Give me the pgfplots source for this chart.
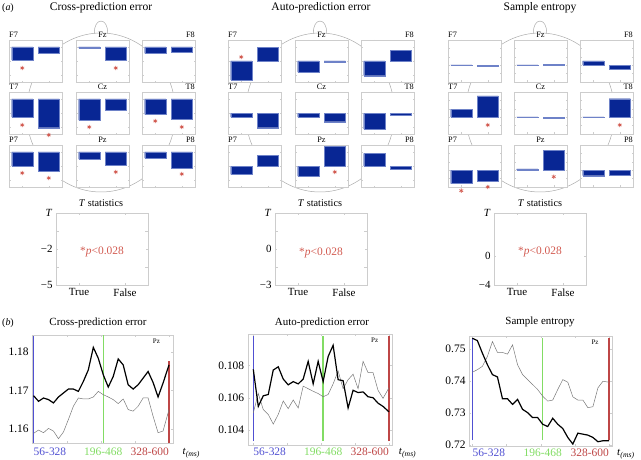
\documentclass[border=0pt]{standalone}
\usepackage{pgfplots}
\pgfplotsset{compat=1.18}
\usepackage{pgfplotstable}
\usepackage{fontspec}
\setmainfont{Liberation Serif}

\definecolor{barblue}{RGB}{8,38,148}
\definecolor{baredge}{RGB}{110,130,200}
\definecolor{starred}{RGB}{210,90,80}
\definecolor{framegray}{RGB}{205,205,205}
\definecolor{headgray}{RGB}{170,170,170}
\definecolor{lineblue}{RGB}{80,80,210}
\definecolor{linegreen}{RGB}{130,220,100}
\definecolor{linered}{RGB}{190,70,70}
\definecolor{trialgray}{RGB}{120,120,120}

% panel (b): t, black (true), gray (false)
\pgfplotstableread{
t   blk      gry
56  1.16863  1.15889
66  1.16718  1.15974
76  1.16803  1.15906
86  1.16761  1.16017
96  1.16675  1.15949
106 1.16829  1.15752
116 1.16932  1.15923
126 1.17034  1.16248
136 1.17034  1.16590
146 1.16974  1.16803
156 1.17231  1.16778
166 1.17530  1.16778
176 1.18111  1.16829
186 1.17829  1.16974
196 1.17402  1.16889
206 1.17085  1.16829
216 1.17359  1.16761
226 1.17812  1.16658
236 1.17658  1.16778
246 1.17145  1.16504
256 1.17034  1.16462
266 1.17145  1.16590
276 1.17316  1.16803
286 1.17487  1.16803
296 1.17205  1.16333
306 1.16829  1.15906
316 1.17188  1.15949
328 1.17658  1.16504
}\crossdata

\pgfplotstableread{
t   blk      gry
56  0.10776  0.10506
66  0.10546  0.10626
76  0.10612  0.10526
86  0.10620  0.10496
96  0.10772  0.10436
106 0.10792  0.10496
116 0.10716  0.10580
126 0.10680  0.10532
136 0.10700  0.10586
146 0.10686  0.10536
156 0.10716  0.10672
166 0.10826  0.10656
176 0.10686  0.10640
186 0.10826  0.10626
196 0.10700  0.10606
206 0.10856  0.10620
216 0.10926  0.10686
226 0.10712  0.10766
236 0.10706  0.10656
246 0.10536  0.10712
256 0.10646  0.10746
266 0.10632  0.10656
276 0.10636  0.10826
286 0.10606  0.10756
296 0.10600  0.10756
306 0.10566  0.10646
316 0.10546  0.10596
328 0.10512  0.10662
}\autodata

\pgfplotstableread{
t   blk      gry
56  0.75330  0.74268
66  0.75258  0.74351
76  0.74866  0.74454
86  0.74505  0.74763
96  0.74196  0.75227
106 0.74124  0.74887
116 0.73443  0.74887
126 0.73443  0.74835
136 0.73268  0.75124
146 0.73423  0.74505
156 0.73113  0.74196
166 0.73010  0.74041
176 0.72856  0.73887
186 0.72856  0.73732
196 0.72649  0.73526
206 0.72577  0.73371
216 0.72835  0.73402
226 0.72649  0.73732
236 0.72515  0.74041
246 0.72237  0.73959
256 0.72031  0.73505
266 0.72371  0.73402
276 0.72340  0.73402
286 0.72309  0.73165
296 0.72237  0.73196
306 0.72103  0.73784
316 0.72134  0.73990
328 0.72134  0.73959
}\sampdata

\newcommand{\elecfont}{\fontsize{8.3}{9}\selectfont}
\newcommand{\titlefont}{\fontsize{11.6}{13}\selectfont}
\newcommand{\tickfont}{\fontsize{11}{12}\selectfont}
\newcommand{\winfont}{\fontsize{11.5}{12}\selectfont}

\pgfplotsset{
  elec/.style={scale only axis, width=53bp, height=42bp, anchor=north west,
    xmin=0.5, xmax=2.5, clip=false,
    axis line style={framegray, line width=0.4pt},
    axis background/.style={fill=white},
    xtick={1,2}, xticklabels={}, yticklabels={},
    tick style={framegray, line width=0.3pt}, major tick length=1.5bp,
    tick align=inside},
  tstat/.style={scale only axis, width=92bp, height=72bp, anchor=north west,
    xmin=0.5, xmax=2.5, xtick={1,2}, xticklabels={True,False},
    axis line style={framegray, line width=0.4pt},
    tick style={framegray, line width=0.3pt}, major tick length=2bp,
    tick align=inside, ticklabel style={font=\tickfont, text=black},
    minor y tick num=1},
  trace/.style={scale only axis, anchor=north west, clip=false,
    axis line style={framegray, line width=0.4pt},
    tick style={framegray, line width=0.3pt}, major tick length=2bp,
    tick align=inside, ticklabel style={font=\fontsize{11.5}{12}\selectfont, text=black},
    xtick={56,124,192,260,328}, xticklabels={}},
  window/.style={line width=1.4bp},
}

% #1 x, #2 y, #3 ymin, #4 ymax, #5 label, #6 rel x of label, #7 anchor, #8 bars, #9 stars
\newcommand{\ebox}[9]{%
  \begin{axis}[elec, at={(#1bp,-#2bp)}, ymin=#3, ymax=#4]
    \addplot[ybar, bar width=0.8, bar shift=0pt, fill=barblue, draw=baredge, line width=0.3pt]
      coordinates {#8};
    \addplot[only marks, mark=asterisk, mark size=2.2bp, color=starred, line width=0.6bp]
      coordinates {#9};
    \node[anchor=#7, inner sep=0pt, font=\elecfont, yshift=2.6bp] at (rel axis cs:#6,1) {#5};
  \end{axis}}

\newcommand{\head}[1]{%
  \draw[headgray, line width=0.5bp] (#1,112.5) ellipse [x radius=74.5bp, y radius=79.5bp];
  \draw[headgray, line width=0.5bp] (#1-6.5,33.4) .. controls (#1-7.5,17) and (#1+7.5,17) .. (#1+6.5,33.4);}

\begin{document}
\begin{tikzpicture}[x=1bp, y=-1bp]
\useasboundingbox (0,0) rectangle (641,460);

% ---------- panel (a) ----------
\node[font=\fontsize{10}{12}\selectfont, anchor=west, inner sep=0pt] at (2,8) {(\textit{a})};
\node[font=\titlefont] at (101,8) {Cross-prediction error};
\node[font=\titlefont] at (321,8) {Auto-prediction error};
\node[font=\titlefont] at (540,8) {Sample entropy};

\head{101}
\head{320}
\head{540}

% cross-prediction error
\ebox{9}{40}{-5}{1}{F7}{0}{base west}{(1,-1.86) (2,-0.9)}{(1,-3.0)}
\ebox{76}{40}{-5}{1}{Fz}{0.5}{base}{(1,-0.15) (2,-1.86)}{(2,-3.0)}
\ebox{142}{40}{-5}{1}{F8}{1}{base east}{(1,-0.9) (2,-0.76)}{}
\ebox{9}{92}{-5}{1}{T7}{0}{base west}{(1,-2.6) (2,-4.1)}{(1,-3.71) (2,-5.14)}
\ebox{76}{92}{-5}{1}{Cz}{0.5}{base}{(1,-3.0) (2,-1.6)}{(1,-4.0)}
\ebox{142}{92}{-5}{1}{T8}{1}{base east}{(1,-2.2) (2,-2.9)}{(1,-3.14) (2,-4.0)}
\ebox{9}{145}{-5}{1}{P7}{0}{base west}{(1,-2.0) (2,-2.7)}{(1,-3.0) (2,-3.71)}
\ebox{76}{145}{-5}{1}{Pz}{0.5}{base}{(1,-1.0) (2,-1.9)}{(2,-2.86)}
\ebox{142}{145}{-5}{1}{P8}{1}{base east}{(1,-0.86) (2,-2.3)}{(2,-3.14)}

% auto-prediction error
\ebox{228}{40}{-3}{3}{F7}{0}{base west}{(1,-2.7) (2,1.95)}{(1,0.57)}
\ebox{295}{40}{-3}{3}{Fz}{0.5}{base}{(1,-1.6) (2,-0.2)}{}
\ebox{361}{40}{-3}{3}{F8}{1}{base east}{(1,-2.1) (2,1.5)}{}
\ebox{228}{92}{-3}{3}{T7}{0}{base west}{(1,-0.6) (2,-2.1)}{}
\ebox{295}{92}{-3}{3}{Cz}{0.5}{base}{(1,-0.6) (2,-1.24)}{}
\ebox{361}{92}{-3}{3}{T8}{1}{base east}{(1,-2.3) (2,-0.25)}{}
\ebox{228}{145}{-3}{3}{P7}{0}{base west}{(1,-1.2) (2,1.5)}{}
\ebox{295}{145}{-3}{3}{Pz}{0.5}{base}{(1,-1.45) (2,2.8)}{(2,-0.86)}
\ebox{361}{145}{-3}{3}{P8}{1}{base east}{(1,1.8) (2,-0.5)}{}

% sample entropy
\ebox{448}{40}{-4}{6}{F7}{0}{base west}{(1,0.1) (2,-0.2)}{}
\ebox{514}{40}{-4}{6}{Fz}{0.5}{base}{(1,0.05) (2,0.15)}{}
\ebox{580}{40}{-4}{6}{F8}{1}{base east}{(1,1.0) (2,-1.0)}{}
\ebox{448}{92}{-4}{6}{T7}{0}{base west}{(1,1.9) (2,5.1)}{(2,-1.86)}
\ebox{514}{92}{-4}{6}{Cz}{0.5}{base}{(1,0.05) (2,-0.3)}{}
\ebox{580}{92}{-4}{6}{T8}{1}{base east}{(1,0.05) (2,4.4)}{(2,-1.86)}
\ebox{448}{145}{-4}{6}{P7}{0}{base west}{(1,-3.2) (2,-2.6)}{(1,-4.88) (2,-4.0)}
\ebox{514}{145}{-4}{6}{Pz}{0.5}{base}{(1,0.3) (2,4.7)}{(2,-1.55)}
\ebox{580}{145}{-4}{6}{P8}{1}{base east}{(1,-1.3) (2,-1.2)}{}

% T statistics keys
\node[font=\fontsize{10.3}{12}\selectfont] at (101,203) {\textit{T} statistics};
\node[font=\fontsize{10.3}{12}\selectfont] at (320,203) {\textit{T} statistics};
\node[font=\fontsize{10.3}{12}\selectfont] at (540,203) {\textit{T} statistics};

\begin{axis}[tstat, at={(56bp,-213bp)}, ymin=-5, ymax=1, ytick={-5,-2,1}, yticklabels={−5,−2,\textit{T}}]
  \node[text=starred, font=\fontsize{11.5}{13}\selectfont] at (rel axis cs:0.5,0.46) {*\textit{p}<0.028};
\end{axis}
\begin{axis}[tstat, at={(275bp,-213bp)}, ymin=-3, ymax=3, ytick={-3,0,3}, yticklabels={−3,0,\textit{T}}]
  \node[text=starred, font=\fontsize{11.5}{13}\selectfont] at (rel axis cs:0.5,0.44) {*\textit{p}<0.028};
\end{axis}
\begin{axis}[tstat, at={(494bp,-213bp)}, ymin=-4, ymax=6, ytick={-4,0,6}, yticklabels={−4,0,\textit{T}}]
  \node[text=starred, font=\fontsize{11.5}{13}\selectfont] at (rel axis cs:0.5,0.46) {*\textit{p}<0.028};
\end{axis}

% ---------- panel (b) ----------
\node[font=\fontsize{10}{12}\selectfont, anchor=west, inner sep=0pt] at (2,323) {(\textit{b})};
\node[font=\fontsize{11}{13}\selectfont] at (98,323) {Cross-prediction error};
\node[font=\fontsize{11}{13}\selectfont] at (322,323) {Auto-prediction error};
\node[font=\fontsize{11}{13}\selectfont] at (540,322) {Sample entropy};

\begin{axis}[trace, at={(32.2bp,-335bp)}, width=141.1bp, height=108bp,
    xmin=53.3, xmax=336.6, ymin=1.1564, ymax=1.1843,
    ytick={1.16,1.17,1.18}, yticklabels={1.16,1.17,1.18}]
  \addplot[lineblue, window] coordinates {(56,1.1564) (56,1.1840)};
  \addplot[linegreen, window] coordinates {(196,1.1564) (196,1.1843)};
  \addplot[linered, window] coordinates {(328,1.1564) (328,1.1775)};
  \addplot[trialgray, line width=0.5bp] table[x=t, y=gry] {\crossdata};
  \addplot[black, line width=1.2bp] table[x=t, y=blk] {\crossdata};
  \node[font=\fontsize{7}{8}\selectfont, anchor=north east] at (rel axis cs:0.93,1) {Pz};
  \node[lineblue, font=\winfont, anchor=north west, inner sep=0pt] at ([yshift=-5bp]axis cs:56,1.1564) {56-328};
  \node[linegreen, font=\winfont, anchor=north, inner sep=0pt] at ([yshift=-5bp]axis cs:196,1.1564) {196-468};
  \node[linered, font=\winfont, anchor=north east, inner sep=0pt] at ([yshift=-5bp]axis cs:328,1.1564) {328-600};
  \node[font=\fontsize{11}{12}\selectfont, anchor=north west, inner sep=0pt] at ([xshift=9bp, yshift=-5bp]rel axis cs:1,0) {\textit{t}\textsubscript{\textit{(ms)}}};
\end{axis}

\begin{axis}[trace, at={(247.7bp,-334bp)}, width=144bp, height=111bp,
    xmin=44.8, xmax=333.4, ymin=0.10306, ymax=0.10996,
    ytick={0.104,0.106,0.108,0.110}, yticklabels={0.104,0.106,0.108,0.110}]
  \addplot[lineblue, window] coordinates {(56,0.1033) (56,0.10985)};
  \addplot[linegreen, window] coordinates {(196,0.1033) (196,0.10985)};
  \addplot[linered, window] coordinates {(328,0.1033) (328,0.10985)};
  \addplot[trialgray, line width=0.5bp] table[x=t, y=gry] {\autodata};
  \addplot[black, line width=1.2bp] table[x=t, y=blk] {\autodata};
  \node[font=\fontsize{7}{8}\selectfont, anchor=north east] at (rel axis cs:0.93,1) {Pz};
  \node[lineblue, font=\winfont, anchor=north west, inner sep=0pt] at ([yshift=-3bp]axis cs:56,0.10306) {56-328};
  \node[linegreen, font=\winfont, anchor=north, inner sep=0pt] at ([yshift=-3bp]axis cs:196,0.10306) {196-468};
  \node[linered, font=\winfont, anchor=north east, inner sep=0pt] at ([yshift=-3bp]axis cs:328,0.10306) {328-600};
  \node[font=\fontsize{11}{12}\selectfont, anchor=north west, inner sep=0pt] at ([xshift=7bp, yshift=-3bp]rel axis cs:1,0) {\textit{t}\textsubscript{\textit{(ms)}}};
\end{axis}

\begin{axis}[trace, at={(469bp,-336bp)}, width=143bp, height=110bp,
    xmin=49.4, xmax=334, ymin=0.7197, ymax=0.754,
    ytick={0.72,0.73,0.74,0.75}, yticklabels={0.72,0.73,0.74,0.75}]
  \addplot[lineblue, window] coordinates {(56,0.7215) (56,0.7535)};
  \addplot[linegreen, window] coordinates {(196,0.7215) (196,0.7535)};
  \addplot[linered, window] coordinates {(328,0.7215) (328,0.7535)};
  \addplot[trialgray, line width=0.5bp] table[x=t, y=gry] {\sampdata};
  \addplot[black, line width=1.2bp] table[x=t, y=blk] {\sampdata};
  \node[font=\fontsize{7}{8}\selectfont, anchor=north east] at (rel axis cs:0.93,1) {Pz};
  \node[lineblue, font=\winfont, anchor=north west, inner sep=0pt] at ([yshift=-3bp]axis cs:56,0.7197) {56-328};
  \node[linegreen, font=\winfont, anchor=north, inner sep=0pt] at ([yshift=-3bp]axis cs:196,0.7197) {196-468};
  \node[linered, font=\winfont, anchor=north east, inner sep=0pt] at ([yshift=-3bp]axis cs:328,0.7197) {328-600};
  \node[font=\fontsize{11}{12}\selectfont, anchor=north west, inner sep=0pt] at ([xshift=5bp, yshift=-3bp]rel axis cs:1,0) {\textit{t}\textsubscript{\textit{(ms)}}};
\end{axis}

\end{tikzpicture}
\end{document}
